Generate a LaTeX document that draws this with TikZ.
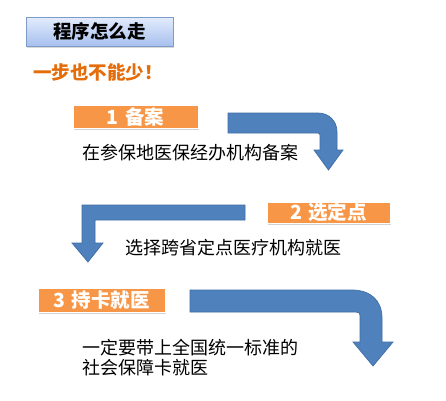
\documentclass[tikz,border=0pt]{standalone}
\usepackage{fontspec}
\setmainfont{Noto Sans CJK SC}
\usetikzlibrary{shadows}
\definecolor{arrowblue}{HTML}{4F81BD}
\definecolor{arrowedge}{HTML}{3F6EA6}
\definecolor{boxorange}{HTML}{F79646}
\definecolor{txtorange}{HTML}{E46C0A}
\definecolor{titletop}{HTML}{E3ECFC}
\definecolor{titlebot}{HTML}{A7C0EE}
\definecolor{titleedge}{HTML}{7E9CC8}
\begin{document}
\begin{tikzpicture}[x=1pt,y=-1pt,
  stepbox/.style={fill=boxorange, draw=white, line width=1pt, text=white,
    font=\fontsize{19.5}{22}\selectfont\bfseries, inner sep=0pt, anchor=center,
    drop shadow={opacity=0.35, shadow xshift=0.8pt, shadow yshift=-1.6pt}},
  bodytext/.style={font=\fontsize{18}{19.5}\selectfont, text=black, inner sep=0pt, anchor=west, align=left},
  bigarrow/.style={fill=arrowblue, draw=arrowedge, line width=0.7pt}]
\useasboundingbox (0,0) rectangle (446,400);
\fill[white] (0,0) rectangle (446,400);
% title
\node[minimum width=147pt, minimum height=29pt, inner sep=0pt,
  top color=titletop, bottom color=titlebot, draw=titleedge, line width=0.8pt,
  drop shadow={opacity=0.3, shadow xshift=0.8pt, shadow yshift=-1.5pt},
  font=\fontsize{18.5}{20}\selectfont\bfseries] (title) at (99.5,31.5) {程序怎么走};
\node[font=\fontsize{18.5}{20}\selectfont\bfseries, text=txtorange, anchor=west, inner sep=0pt] (motto) at (33,72) {一步也不能少！};
% step 1
\node[stepbox, minimum width=125pt, minimum height=23pt] (s1) at (135.5,116.5) {1\,\,备案};
\node[bodytext] (t1) at (82,153) {在参保地医保经办机构备案};
\draw[bigarrow] (228,113) -- (318,113) .. controls (329,113) and (337,121) .. (337,132)
  -- (337,150) -- (343,150) -- (328.5,170) -- (314,150) -- (320,150) -- (320,136)
  .. controls (320,134) .. (318,133) -- (228,133) -- cycle;
% step 2
\node[stepbox, minimum width=123pt, minimum height=21pt] (s2) at (328.5,212.5) {2\,\,选定点};
\node[bodytext] (t2) at (125,248) {选择跨省定点医疗机构就医};
\draw[bigarrow] (245,205) -- (82,205) -- (82,243) -- (72,243) -- (88,262) -- (103,243)
  -- (95,243) -- (95,220) -- (245,220) -- cycle;
% step 3
\node[stepbox, minimum width=127pt, minimum height=24pt] (s3) at (101.5,300) {3\,\,持卡就医};
\node[bodytext] (t3) at (82,357.5) {一定要带上全国统一标准的\\社会保障卡就医};
\draw[bigarrow] (190,290) -- (352,290) .. controls (370,290) and (382,300) .. (382,318)
  -- (382,342) -- (393,342) -- (373,366) -- (353,342) -- (360,342) -- (360,316)
  .. controls (360,313) .. (356,312) -- (190,312) -- cycle;
\end{tikzpicture}
\end{document}
